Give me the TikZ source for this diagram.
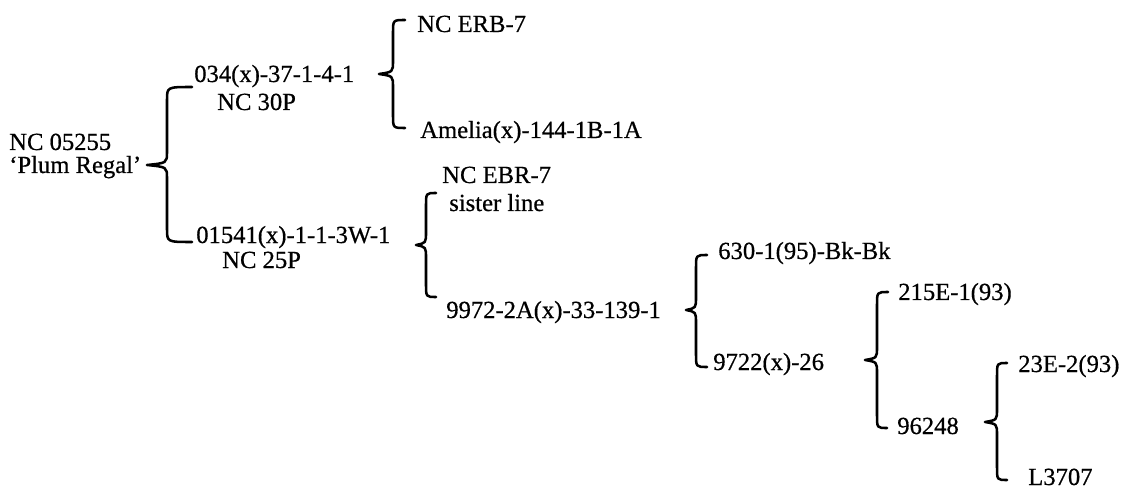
\documentclass[tikz,border=0pt]{standalone}
\usepackage{fontspec}
\setmainfont{Liberation Serif}[FakeBold=0.6]
\usetikzlibrary{calc}

% brace from top tip #2 through cusp #3 to bottom tip #4, stem #1 right of the cusp
\newcommand{\famBrace}[4][12]{%
  \draw[brc] (#2) .. controls ($(#2 -| #3)+(#1,0)$) .. ($(#2 -| #3)+(#1,13)$)
    -- ($(#3)+(#1,-13)$) .. controls ($(#3)+(#1,-2)$) .. (#3)
    .. controls ($(#3)+(#1,2)$) .. ($(#3)+(#1,13)$)
    -- ($(#4 -| #3)+(#1,-13)$) .. controls ($(#4 -| #3)+(#1,0)$) .. (#4);}

\begin{document}
\begin{tikzpicture}[x=0.025cm, y=-0.025cm,
  lbl/.style={anchor=base west, inner sep=0pt, font=\fontsize{17.5}{20}\selectfont},
  brc/.style={line width=1.8pt, line cap=round, line join=round}
]
  \useasboundingbox (0,0) rectangle (1125,492);

  % labels
  \node[lbl] (plumA) at (9,150) {NC 05255};
  \node[lbl] (plumB) at (9,173) {`Plum Regal'};
  \node[lbl] (p034) at (194,82) {034(x)-37-1-4-1};
  \node[lbl] (nc30) at (217,110) {NC 30P};
  \node[lbl] (erb) at (417,32) {NC ERB-7};
  \node[lbl] (amelia) at (420,138) {Amelia(x)-144-1B-1A};
  \node[lbl] (p015) at (196,243) {01541(x)-1-1-3W-1};
  \node[lbl] (nc25) at (222,268) {NC 25P};
  \node[lbl] (ebr) at (442,183) {NC EBR-7};
  \node[lbl] (sister) at (449,211) {sister line};
  \node[lbl] (p997) at (446,318) {9972-2A(x)-33-139-1};
  \node[lbl] (p630) at (718,259) {630-1(95)-Bk-Bk};
  \node[lbl] (p972) at (713,370) {9722(x)-26};
  \node[lbl] (p215) at (898,300) {215E-1(93)};
  \node[lbl] (p962) at (897,434) {96248};
  \node[lbl] (p23e) at (1018,372) {23E-2(93)};
  \node[lbl] (l37) at (1028,485) {L3707};

  % brace ends
  \coordinate (t1) at (192,87);   \coordinate (c1) at (147,165);  \coordinate (b1) at (192,242);
  \coordinate (t2) at (405,20);   \coordinate (c2) at (379,74);   \coordinate (b2) at (405,128);
  \coordinate (t3) at (436,193);  \coordinate (c3) at (416,245);  \coordinate (b3) at (436,297);
  \coordinate (t4) at (707,255);  \coordinate (c4) at (686,310);  \coordinate (b4) at (707,367);
  \coordinate (t5) at (888,292);  \coordinate (c5) at (865,360);  \coordinate (b5) at (887,428);
  \coordinate (t6) at (1007,363); \coordinate (c6) at (985,422);  \coordinate (b6) at (1007,480);

  \famBrace[20]{t1}{c1}{b1}
  \famBrace[14]{t2}{c2}{b2}
  \famBrace[10]{t3}{c3}{b3}
  \famBrace[10]{t4}{c4}{b4}
  \famBrace{t5}{c5}{b5}
  \famBrace{t6}{c6}{b6}
\end{tikzpicture}
\end{document}
